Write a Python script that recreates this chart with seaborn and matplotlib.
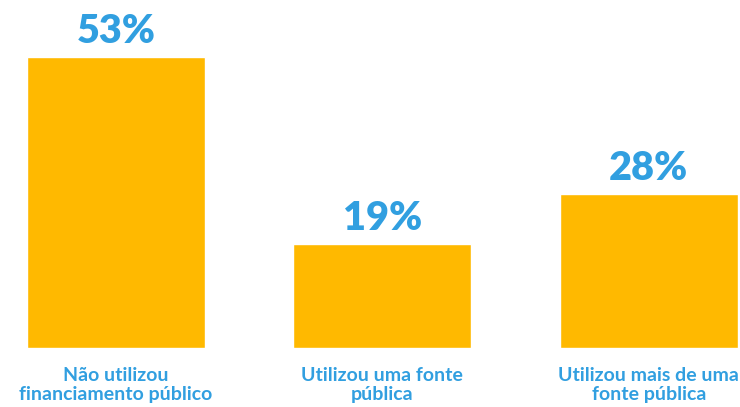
import matplotlib
matplotlib.use("Agg")
import matplotlib.pyplot as plt
import seaborn as sns
import pandas as pd

categories = ["Não utilizou\nfinanciamento público",
              "Utilizou uma fonte\npública",
              "Utilizou mais de uma\nfonte pública"]
values = [53, 19, 28]

BAR = "#FFB900"
BLUE = "#319FE0"

sns.set_theme(style="white")
plt.rcParams["font.family"] = ["Lato", "DejaVu Sans"]

df = pd.DataFrame({"categoria": categories, "pct": values})

fig = plt.figure(figsize=(7.40, 4.07), dpi=100)
ax = fig.add_axes([0, 59 / 407, 1, 348 / 407])
sns.barplot(data=df, x="categoria", y="pct", color=BAR, saturation=1,
            width=0.668, ax=ax)

ax.set_xlim(-0.435, 2.342)
ax.set_ylim(0, 63.4)
for s in ax.spines.values():
    s.set_visible(False)
ax.set_yticks([])
ax.set_xlabel("")
ax.set_ylabel("")
ax.tick_params(axis="x", length=0, pad=14)
for lab in ax.get_xticklabels():
    lab.set_color(BLUE)
    lab.set_fontsize(14)
    lab.set_fontweight("bold")
    lab.set_linespacing(1.12)

for i, v in enumerate(values):
    ax.annotate(f"{v}%", (i, v), xytext=(0, 10), textcoords="offset points",
                ha="center", va="baseline", color=BLUE, fontsize=28.5,
                fontweight="heavy", family=["Lato", "DejaVu Sans"])

fig.savefig("out.png", dpi=100)
